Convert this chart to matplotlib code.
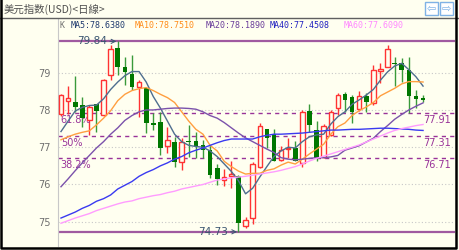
import matplotlib.pyplot as plt
from matplotlib.patches import Rectangle
from matplotlib.lines import Line2D

# daily candles (open, close, high, low)
opens = [77.90, 78.25, 78.22, 78.13, 77.73, 78.15, 77.87, 78.94, 79.65, 79.14,
         78.96, 78.62, 78.60, 77.64, 77.69, 77.03, 77.15, 76.61, 77.16, 77.17,
         77.06, 76.93, 76.44, 76.12, 76.24, 76.23, 74.88, 75.11, 76.48, 77.49,
         77.35, 76.66, 76.95, 76.97, 76.57, 77.97, 77.45, 76.75, 77.33, 78.06,
         78.42, 78.36, 78.02, 78.37, 78.18, 79.05, 79.16, 79.26, 79.25, 79.07,
         78.37, 78.31]
closes = [78.40, 78.31, 78.09, 77.78, 78.09, 77.97, 78.80, 79.63, 79.16, 79.01,
          78.62, 78.76, 77.64, 77.60, 76.97, 77.20, 76.61, 77.15, 77.14, 77.03,
          76.93, 76.26, 76.14, 76.21, 76.27, 74.96, 75.05, 76.55, 77.57, 77.24,
          76.63, 76.93, 76.98, 76.64, 77.95, 77.60, 76.70, 77.58, 77.94, 78.40,
          78.27, 77.95, 78.37, 78.22, 79.07, 79.10, 79.63, 79.24, 79.07, 78.38,
          78.29, 78.26]
highs = [78.42, 78.65, 78.90, 78.36, 78.12, 78.17, 78.82, 79.74, 79.84, 79.43,
         79.47, 78.80, 78.62, 77.93, 77.95, 77.55, 77.28, 77.25, 77.60, 77.42,
         77.20, 77.05, 76.55, 76.42, 76.62, 76.25, 75.13, 76.61, 77.65, 77.50,
         77.48, 77.02, 77.26, 77.17, 78.00, 78.16, 77.70, 77.63, 78.00, 78.45,
         78.47, 78.40, 78.52, 78.45, 79.20, 79.25, 79.74, 79.41, 79.40, 79.41,
         78.54, 78.40]
lows = [77.85, 77.90, 77.95, 77.55, 77.33, 77.40, 77.83, 78.80, 78.94, 78.67,
        78.54, 77.80, 77.38, 77.46, 76.79, 76.84, 76.48, 76.39, 76.75, 76.70,
        76.72, 76.17, 75.98, 75.95, 75.90, 74.73, 74.84, 74.94, 76.45, 76.97,
        76.63, 76.62, 76.70, 76.62, 76.48, 77.42, 76.63, 76.72, 77.30, 77.87,
        77.95, 77.65, 77.98, 77.95, 78.13, 78.72, 79.14, 78.65, 78.76, 77.92,
        78.05, 78.20]

# moving averages as drawn
ma5 = [77.42, 77.70, 77.97, 78.07, 78.12, 78.13, 78.30, 78.55, 78.75, 78.92,
       79.03, 79.03, 78.75, 78.36, 78.05, 77.70, 77.35, 77.15, 77.05, 77.02,
       77.00, 76.90, 76.75, 76.55, 76.35, 76.10, 75.75, 75.90, 76.20, 76.48,
       76.75, 76.90, 77.00, 76.98, 77.15, 77.28, 77.33, 77.35, 77.62, 77.82,
       77.95, 78.15, 78.27, 78.40, 78.55, 78.80, 79.02, 79.18, 79.25, 79.08,
       78.89, 78.64]
ma10 = [77.20, 77.28, 77.35, 77.40, 77.44, 77.60, 77.78, 77.98, 78.25, 78.42,
        78.52, 78.57, 78.60, 78.52, 78.42, 78.33, 78.20, 77.95, 77.70, 77.48,
        77.35, 77.05, 76.90, 76.62, 76.48, 76.36, 76.28, 76.30, 76.30, 76.38,
        76.42, 76.52, 76.60, 76.55, 76.68, 76.82, 76.95, 77.08, 77.35, 77.55,
        77.65, 77.85, 77.98, 78.08, 78.20, 78.38, 78.48, 78.58, 78.70, 78.76,
        78.76, 78.75]
ma20 = [75.94, 76.15, 76.37, 76.58, 76.78, 76.98, 77.15, 77.35, 77.52, 77.72,
        77.85, 77.95, 78.00, 78.00, 78.02, 78.04, 78.05, 78.05, 78.04, 78.02,
        77.95, 77.85, 77.78, 77.66, 77.52, 77.38, 77.25, 77.15, 77.05, 76.95,
        76.86, 76.72, 76.68, 76.66, 76.68, 76.70, 76.72, 76.72, 76.74, 76.78,
        76.92, 76.98, 77.04, 77.14, 77.24, 77.42, 77.58, 77.75, 77.88, 78.00,
        78.10, 78.19]
ma40 = [75.10, 75.18, 75.26, 75.36, 75.44, 75.55, 75.62, 75.72, 75.88, 75.98,
        76.08, 76.22, 76.32, 76.40, 76.50, 76.58, 76.68, 76.75, 76.85, 76.92,
        76.98, 77.05, 77.12, 77.18, 77.22, 77.22, 77.22, 77.22, 77.28, 77.32,
        77.35, 77.35, 77.36, 77.37, 77.38, 77.40, 77.42, 77.44, 77.46, 77.46,
        77.47, 77.48, 77.48, 77.49, 77.50, 77.51, 77.51, 77.50, 77.49, 77.48,
        77.46, 77.45]
ma60 = [74.96, 75.03, 75.10, 75.16, 75.22, 75.30, 75.36, 75.42, 75.48, 75.53,
        75.56, 75.62, 75.66, 75.70, 75.73, 75.78, 75.82, 75.88, 75.92, 75.96,
        76.00, 76.06, 76.12, 76.15, 76.18, 76.20, 76.22, 76.25, 76.28, 76.31,
        76.34, 76.38, 76.43, 76.48, 76.55, 76.63, 76.70, 76.76, 76.82, 76.88,
        76.94, 77.00, 77.06, 77.14, 77.22, 77.30, 77.38, 77.45, 77.50, 77.54,
        77.58, 77.61]

ma_names = ['MA5:78.6380', 'MA10:78.7510', 'MA20:78.1890', 'MA40:77.4508', 'MA60:77.6090']
ma_colors = ['#4F6E8F', '#FF9F40', '#7B52AB', '#3A3AF0', '#FF9CFF']
ma_text_colors = ['#1F3A6E', '#FF8C1A', '#6A3D9A', '#2020C0', '#FF88FF']

fib_levels = [77.91, 77.31, 76.71]
fib_names = ['61.8%', '50%', '38.2%']
high_mark, high_idx = 79.84, 8
low_mark, low_idx = 74.73, 25
yticks = [75, 76, 77, 78, 79]

bg = '#FFFFF0'
W, H = 460, 250
fig = plt.figure(figsize=(4.6, 2.5), dpi=100, facecolor=bg)
ax = fig.add_axes([58 / W, 4 / H, 397 / W, 227 / H])
ax.set_facecolor(bg)
ax.set_xlim(-0.42, 55.5)
ax.set_ylim(74.35, 80.44)

# candles
for i in range(len(closes)):
    o, c, h, l = opens[i], closes[i], highs[i], lows[i]
    if c >= o:
        col = '#FF3333'
        ax.vlines(i, l, h, color=col, lw=1, zorder=3)
        ax.bar(i, max(c - o, 0.02), bottom=o, width=0.62, facecolor=bg,
               edgecolor=col, lw=1, zorder=4)
    else:
        ax.vlines(i, l, h, color='#3A9A3A', lw=1, zorder=3)
        ax.bar(i, max(o - c, 0.03), bottom=c, width=0.66, color='#007700',
               lw=0, zorder=4)

# moving averages
for ma, col in zip([ma5, ma10, ma20, ma40, ma60], ma_colors):
    ax.plot(range(len(ma)), ma, color=col, lw=1, zorder=5)

# grid and axis
ax.set_yticks(yticks)
ax.set_xticks([])
ax.grid(axis='y', ls=(0, (1, 2)), color='#C8C8C8', lw=0.8)
ax.tick_params(axis='y', length=0, pad=5, labelsize=7, labelcolor='#707070')
for s in ['top', 'right', 'bottom']:
    ax.spines[s].set_visible(False)
ax.spines['left'].set_color('#C8C8C8')

# fibonacci levels
for lv, name in zip(fib_levels, fib_names):
    ax.axhline(lv, color='#993399', ls=(0, (3, 3)), lw=1, zorder=2)
    ax.annotate(name, xy=(0, lv), xycoords=('axes fraction', 'data'),
                xytext=(2, -1.5), textcoords='offset points', va='top',
                fontsize=7, color='#993399')
    ax.annotate('%.2f' % lv, xy=(1, lv), xycoords=('axes fraction', 'data'),
                xytext=(-3, -1.5), textcoords='offset points', va='top', ha='right',
                fontsize=7, color='#993399')

# period high / low
for val, idx, off in [(high_mark, high_idx, -1.5), (low_mark, low_idx, -1.5)]:
    ax.axhline(val, color='#A05AA0', lw=1.6, zorder=2)
    ax.annotate('%.2f' % val, xy=(idx - 0.2, val), xytext=(idx + off, val),
                ha='right', va='center', fontsize=7.5, color='#3A5570',
                arrowprops=dict(arrowstyle='->', color='#3A5570', lw=0.7,
                                shrinkA=0, shrinkB=0), zorder=6)

# header with MA values
fig.text(60 / W, 1 - 26 / H, 'K', fontsize=6, color='#707070',
         family='DejaVu Sans Mono', va='center')
for xpx, name, col in zip([71, 135, 206, 270, 344], ma_names, ma_text_colors):
    fig.text(xpx / W, 1 - 26 / H, name, fontsize=6, color=col,
             family='DejaVu Sans Mono', va='center')

# title bar
fig.text(4 / W, 1 - 9 / H, '美元指数(USD)<日線>', fontsize=7.5, color='#505050',
         family=['Noto Sans CJK TC', 'DejaVu Sans'], va='center')
fig.add_artist(Line2D([0, 1], [1 - 17.5 / H] * 2, color='#606060', lw=1))
for x0, arrow in [(425, '⇦'), (440, '⇨')]:
    fig.add_artist(Rectangle((x0 / W, 1 - 15 / H), 13 / W, 13 / H,
                             facecolor='white', edgecolor='#7FB2E5', lw=1))
    fig.text((x0 + 6.5) / W, 1 - 8.5 / H, arrow, fontsize=8, color='#7FB2E5',
             ha='center', va='center')

# outer frame: left, bottom and right only
frame_x = [1 / W, 1 / W, 456 / W, 456 / W]
frame_y = [1, 2.5 / H, 2.5 / H, 1]
fig.add_artist(Line2D(frame_x, frame_y, color='black', lw=1.8))

fig.savefig('out.png', dpi=100, facecolor=bg)
